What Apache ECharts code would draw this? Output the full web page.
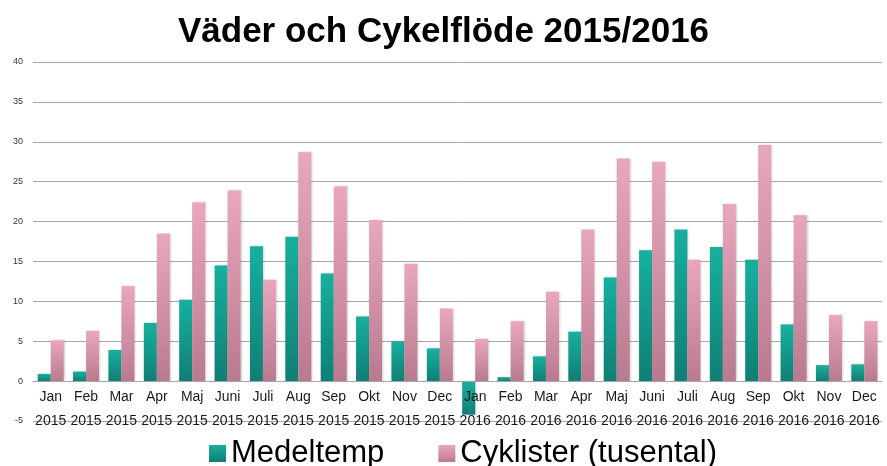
<!DOCTYPE html>
<html>
<head>
<meta charset="utf-8">
<script src="https://cdn.jsdelivr.net/npm/echarts@6/dist/echarts.min.js"></script>
<style>
  html, body { margin: 0; padding: 0; background: #fff; }
  #container { width: 887px; height: 466px; }
</style>
</head>
<body>
<div id="container"></div>
<script>
var months = ['Jan','Feb','Mar','Apr','Maj','Juni','Juli','Aug','Sep','Okt','Nov','Dec',
              'Jan','Feb','Mar','Apr','Maj','Juni','Juli','Aug','Sep','Okt','Nov','Dec'];
var years = ['2015','2015','2015','2015','2015','2015','2015','2015','2015','2015','2015','2015',
             '2016','2016','2016','2016','2016','2016','2016','2016','2016','2016','2016','2016'];
var medeltemp = [0.9, 1.2, 3.9, 7.3, 10.2, 14.5, 16.9, 18.1, 13.5, 8.1, 5.0, 4.1,
                 -4.2, 0.5, 3.1, 6.2, 13.0, 16.4, 19.0, 16.8, 15.2, 7.1, 2.0, 2.1];
var cyklister = [5.1, 6.3, 11.9, 18.5, 22.4, 23.9, 12.7, 28.7, 24.4, 20.2, 14.7, 9.1,
                 5.3, 7.5, 11.2, 19.0, 27.9, 27.5, 15.2, 22.2, 29.6, 20.8, 8.3, 7.5];

var categories = months.map(function (m, i) { return m + '\n' + years[i]; });

var dom = document.getElementById('container');
var myChart = echarts.init(dom);

var option = {
    animation: false,
    title: {
        text: 'Väder och Cykelflöde 2015/2016',
        left: 'center',
        top: 10,
        textStyle: {
            fontFamily: 'Liberation Sans',
            fontWeight: 'bold',
            fontSize: 35,
            color: '#000'
        }
    },
    legend: {
        data: ['Medeltemp', 'Cyklister (tusental)'],
        top: 433,
        left: 204,
        icon: 'rect',
        itemWidth: 17,
        itemHeight: 17,
        itemGap: 54,
        textStyle: {
            fontFamily: 'Liberation Sans',
            fontSize: 31,
            color: '#000'
        }
    },
    grid: {
        left: 33,
        right: 5,
        top: 62,
        bottom: 45,
        outerBoundsMode: 'none'
    },
    xAxis: {
        type: 'category',
        data: categories,
        z: 5,
        axisTick: { show: false },
        axisLine: { onZero: true, lineStyle: { color: '#a6a6a6', width: 1 } },
        axisLabel: {
            interval: 0,
            margin: -36,
            lineHeight: 24,
            fontFamily: 'Liberation Sans',
            fontSize: 14,
            color: '#1a1a1a'
        }
    },
    yAxis: {
        type: 'value',
        min: -5,
        max: 40,
        interval: 5,
        axisLine: { show: false },
        axisTick: { show: false },
        axisLabel: {
            margin: 10,
            fontFamily: 'Liberation Sans',
            fontSize: 9,
            color: '#333'
        },
        splitLine: { lineStyle: { color: '#a6a6a6', width: 1 } }
    },
    series: [
        {
            name: 'Medeltemp',
            type: 'bar',
            data: medeltemp,
            barWidth: 13,
            barGap: '0%',
            itemStyle: {
                color: new echarts.graphic.LinearGradient(0, 0, 0, 1, [
                    { offset: 0, color: '#17b09e' },
                    { offset: 1, color: '#0f7f74' }
                ]),
                shadowColor: 'rgba(0,0,0,0.18)',
                shadowBlur: 2,
                shadowOffsetX: 1
            }
        },
        {
            name: 'Cyklister (tusental)',
            type: 'bar',
            data: cyklister,
            barWidth: 13,
            itemStyle: {
                color: new echarts.graphic.LinearGradient(0, 0, 0, 1, [
                    { offset: 0, color: '#e9a7bd' },
                    { offset: 1, color: '#b97a8f' }
                ]),
                shadowColor: 'rgba(0,0,0,0.18)',
                shadowBlur: 2,
                shadowOffsetX: 1
            }
        }
    ]
};

myChart.setOption(option, true);
</script>
</body>
</html>
